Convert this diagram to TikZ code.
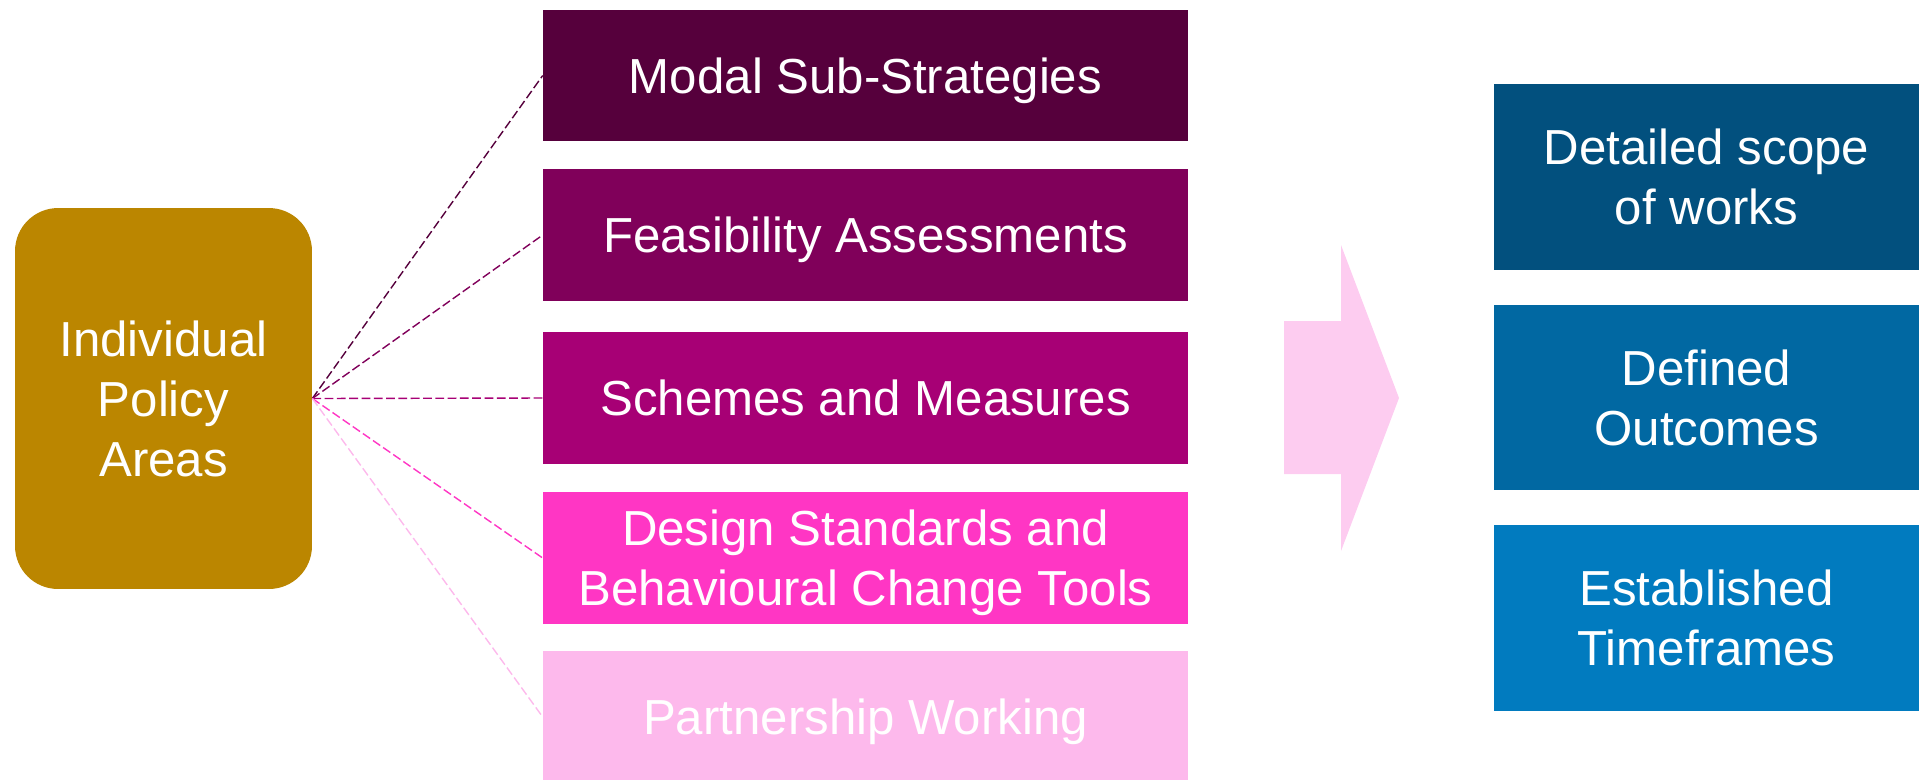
\documentclass[tikz,border=0pt]{standalone}
\usepackage{fontspec}
\setmainfont{Liberation Sans}
\usetikzlibrary{calc}

\definecolor{policygold}{HTML}{BB8600}
\definecolor{plumA}{HTML}{56003C}
\definecolor{plumB}{HTML}{80005A}
\definecolor{plumC}{HTML}{A70075}
\definecolor{pinkD}{HTML}{FF36C4}
\definecolor{pinkE}{HTML}{FDB9EC}
\definecolor{arrowpink}{HTML}{FDCCF0}
\definecolor{blueA}{HTML}{02507E}
\definecolor{blueB}{HTML}{0168A2}
\definecolor{blueC}{HTML}{017BBF}

\begin{document}
\begin{tikzpicture}[x=0.02cm, y=-0.02cm,
		box/.style={rectangle, inner sep=0pt, text=white, align=center,
			text depth=0pt, font=\fontsize{28}{34}\selectfont},
		stage/.style={box, minimum width=12.9cm, minimum height=2.64cm},
		result/.style={box, minimum width=8.5cm, minimum height=3.72cm},
		link/.style={dash pattern=on 5pt off 2pt, line width=0.8pt}]
		
		% Frame
		\clip (0,0) rectangle (1919,779);
		
		% Nodes
		\node[box, fill=policygold, rounded corners=0.86cm,
			minimum width=5.94cm, minimum height=7.62cm] (policy) at (163.5,398.5)
			{Individual\\Policy\\Areas};
		%
		\node[stage, fill=plumA] (modal) at (865.5,75.5) {Modal Sub-Strategies};
		\node[stage, fill=plumB] (feas) at (865.5,235) {Feasibility Assessments};
		\node[stage, fill=plumC] (schemes) at (865.5,398) {Schemes and Measures};
		\node[stage, fill=pinkD] (design) at (865.5,558)
			{Design Standards and\\Behavioural Change Tools};
		\node[stage, fill=pinkE] (partner) at (865.5,717) {Partnership Working};
		%
		\node[result, fill=blueA] (scope) at (1706.5,177) {Detailed scope\\of works};
		\node[result, fill=blueB] (outcomes) at (1706.5,397.5) {Defined\\Outcomes};
		\node[result, fill=blueC] (timeframes) at (1706.5,617.5) {Established\\Timeframes};
		
		% Lines
		\draw[link, plumA] (policy.east) -- (modal.west);
		\draw[link, plumB] (policy.east) -- (feas.west);
		\draw[link, plumC] (policy.east) -- (schemes.west);
		\draw[link, pinkD] (policy.east) -- (design.west);
		\draw[link, pinkE] (policy.east) -- (partner.west);
		
		% Arrow
		\fill[arrowpink] (1284,321) -- (1341,321) -- (1341,245) -- (1399,398)
			-- (1341,551) -- (1341,474) -- (1284,474) -- cycle;
	\end{tikzpicture}
\end{document}
